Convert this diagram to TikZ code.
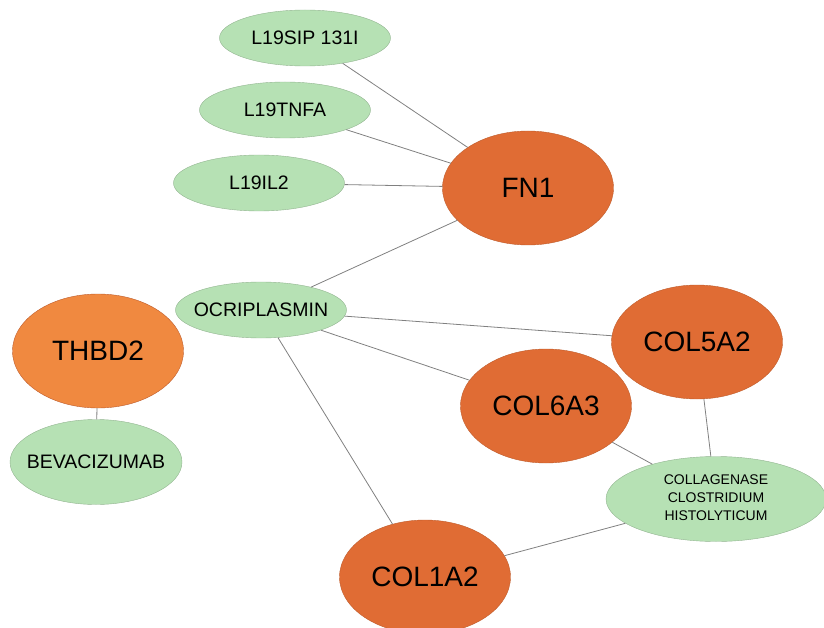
\documentclass[tikz,border=0pt]{standalone}
\usepackage{fontspec}
\setmainfont{Liberation Sans}
\usetikzlibrary{shapes.geometric}
\definecolor{geneorange}{RGB}{224,108,52}
\definecolor{genelight}{RGB}{240,137,64}
\definecolor{druggreen}{RGB}{182,225,180}
\definecolor{linkgray}{RGB}{128,128,128}

\begin{document}
\begin{tikzpicture}[x=1pt, y=-1pt,
    gene/.style={ellipse, draw=geneorange!85!black, fill=geneorange, inner sep=0pt,
      minimum width=171pt, minimum height=114pt, font=\fontsize{28}{34}\selectfont},
    drug/.style={ellipse, draw=druggreen!80!black, fill=druggreen, inner sep=0pt,
      minimum width=171pt, minimum height=56pt, font=\fontsize{19.5}{24}\selectfont},
    link/.style={draw=linkgray, line width=0.8pt}]
    \useasboundingbox (0, 0) rectangle (824, 628);
            % drugs
            \node[drug] (sip) at (305, 38) {\makebox[0pt]{L19SIP 131I}};
            \node[drug] (tnfa) at (285, 110) {\makebox[0pt]{L19TNFA}};
            \node[drug] (il2) at (259, 183) {\makebox[0pt]{L19IL2}};
            \node[drug] (ocri) at (261, 310) {\makebox[0pt]{OCRIPLASMIN}};
            \node[drug, minimum width=172pt, minimum height=85pt] (beva) at (96, 462) {\makebox[0pt]{BEVACIZUMAB}};
            \node[drug, minimum width=220pt, minimum height=85pt, font=\fontsize{14}{17.7}\selectfont] (coll) at (716, 499)
              {\makebox[0pt]{\begin{tabular}{@{}c@{}}COLLAGENASE\\CLOSTRIDIUM\\HISTOLYTICUM\end{tabular}}};
            % genes
            \node[gene] (fn1) at (528, 188) {\makebox[0pt]{FN1}};
            \node[gene, fill=genelight] (thbd) at (98, 351) {\makebox[0pt]{THBD2}};
            \node[gene] (col5) at (697, 342) {\makebox[0pt]{COL5A2}};
            \node[gene] (col6) at (546, 406) {\makebox[0pt]{COL6A3}};
            \node[gene] (col1) at (425, 577) {\makebox[0pt]{COL1A2}};
            % links
            \draw[link] (sip) -- (fn1);
            \draw[link] (tnfa) -- (fn1);
            \draw[link] (il2) -- (fn1);
            \draw[link] (ocri) -- (fn1);
            \draw[link] (ocri) -- (col5);
            \draw[link] (ocri) -- (col6);
            \draw[link] (ocri) -- (col1);
            \draw[link] (thbd) -- (beva);
            \draw[link] (col5) -- (coll);
            \draw[link] (col6) -- (coll);
            \draw[link] (col1) -- (coll);
\end{tikzpicture}
\end{document}
